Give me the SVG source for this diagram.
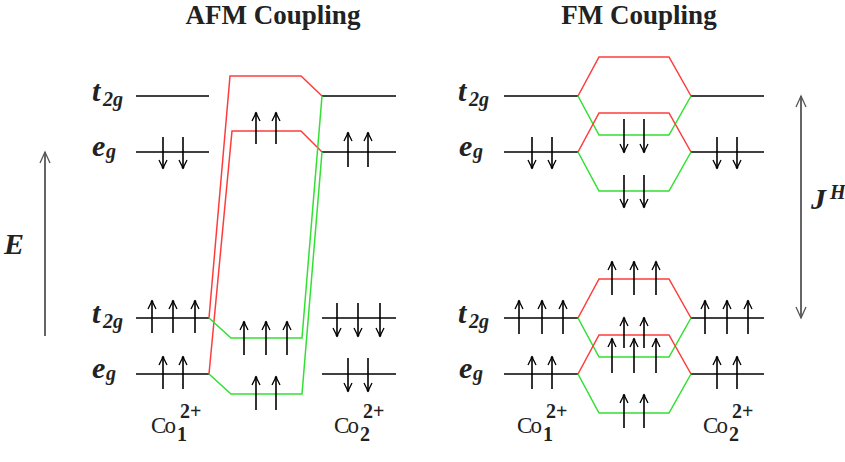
<svg xmlns="http://www.w3.org/2000/svg" width="845" height="462" viewBox="0 0 845 462">
<defs>
<marker id="e" viewBox="-10 -6 12 12" refX="0" refY="0" markerWidth="12" markerHeight="12" markerUnits="userSpaceOnUse" orient="auto">
<path d="M-8,-4 L0,0 L-8,4" fill="none" stroke="#000" stroke-width="1.3"/>
<circle cx="-0.5" cy="0" r="1.3" fill="#000"/>
</marker>
<marker id="ax" viewBox="-12 -7 14 14" refX="0" refY="0" markerWidth="14" markerHeight="14" markerUnits="userSpaceOnUse" orient="auto-start-reverse">
<path d="M-11,-5 L0,0 L-11,5" fill="none" stroke="#555" stroke-width="1.3"/>
</marker>
</defs>
<style>
.t{font-family:"Liberation Serif","Times New Roman",serif;fill:#222}
.ti{font-size:27px;font-weight:bold}
.lb{font-weight:bold;font-style:italic;font-size:30px}
.sb{font-weight:bold;font-style:italic;font-size:20px}
.co{font-size:23px}
.cs{font-size:20px;font-weight:bold}
.lv{stroke:#000;stroke-width:1.5;fill:none}
.r{stroke:#ff3c3c;stroke-width:1.5;fill:none}
.g{stroke:#33e033;stroke-width:1.5;fill:none}
.el line{stroke:#000;stroke-width:1.6;marker-end:url(#e)}
.axis{stroke:#555;stroke-width:1.8}
</style>
<rect width="845" height="462" fill="#fff"/>

<g id="titles">
<text class="t ti" x="273" y="24" text-anchor="middle">AFM Coupling</text>
<text class="t ti" x="639" y="24" text-anchor="middle">FM Coupling</text>
</g>

<g id="energy-axis">
<line class="axis" x1="45" y1="336" x2="45" y2="152" marker-end="url(#ax)"/>
<text class="t lb" x="4" y="254" font-size="34">E</text>
</g>

<g id="hund-axis">
<line class="axis" x1="801" y1="318" x2="801" y2="96" marker-start="url(#ax)" marker-end="url(#ax)"/>
<text class="t lb" x="811" y="209">J</text>
<text class="t" x="830" y="199" font-style="italic" font-weight="bold" font-size="20">H</text>
</g>

<g id="afm-labels">
<text class="t lb" x="92" y="101">t</text><text class="t sb" x="103" y="106">2g</text>
<text class="t lb" x="92" y="156">e</text><text class="t sb" x="106" y="158">g</text>
<text class="t lb" x="92" y="323">t</text><text class="t sb" x="103" y="328">2g</text>
<text class="t lb" x="92" y="378">e</text><text class="t sb" x="106" y="380">g</text>
</g>
<g id="fm-labels">
<text class="t lb" x="458" y="101">t</text><text class="t sb" x="469" y="106">2g</text>
<text class="t lb" x="459" y="156">e</text><text class="t sb" x="473" y="158">g</text>
<text class="t lb" x="458" y="323">t</text><text class="t sb" x="469" y="328">2g</text>
<text class="t lb" x="459" y="378">e</text><text class="t sb" x="473" y="380">g</text>
</g>

<g id="ion-labels">
<text class="t co" x="151" y="433" textLength="25">Co</text><text class="t cs" x="180" y="418">2+</text><text class="t cs" x="177" y="441">1</text>
<text class="t co" x="334" y="433" textLength="25">Co</text><text class="t cs" x="363" y="418">2+</text><text class="t cs" x="360" y="441">2</text>
<text class="t co" x="517" y="433" textLength="25">Co</text><text class="t cs" x="546" y="418">2+</text><text class="t cs" x="543" y="441">1</text>
<text class="t co" x="703" y="433" textLength="25">Co</text><text class="t cs" x="732" y="418">2+</text><text class="t cs" x="729" y="441">2</text>
</g>

<g id="afm-co1-levels">
<line class="lv" x1="136" y1="96" x2="209" y2="96"/>
<line class="lv" x1="136" y1="152" x2="209" y2="152"/>
<line class="lv" x1="136" y1="318" x2="209" y2="318"/>
<line class="lv" x1="136" y1="374" x2="209" y2="374"/>
</g>
<g id="afm-co2-levels">
<line class="lv" x1="322" y1="96" x2="396" y2="96"/>
<line class="lv" x1="322" y1="152" x2="396" y2="152"/>
<line class="lv" x1="322" y1="318" x2="396" y2="318"/>
<line class="lv" x1="322" y1="374" x2="396" y2="374"/>
</g>
<g id="fm-co1-levels">
<line class="lv" x1="504" y1="96" x2="578" y2="96"/>
<line class="lv" x1="504" y1="152" x2="578" y2="152"/>
<line class="lv" x1="504" y1="318" x2="578" y2="318"/>
<line class="lv" x1="504" y1="374" x2="578" y2="374"/>
</g>
<g id="fm-co2-levels">
<line class="lv" x1="691" y1="96" x2="764" y2="96"/>
<line class="lv" x1="691" y1="152" x2="764" y2="152"/>
<line class="lv" x1="691" y1="318" x2="764" y2="318"/>
<line class="lv" x1="691" y1="374" x2="764" y2="374"/>
</g>

<g id="connectors">
<polyline class="r" points="209,318 230,76 301,76 322,96"/>
<polyline class="r" points="209,374 232,131 301,131 322,152"/>
<polyline class="g" points="209,318 231,338 302,338 322,96"/>
<polyline class="g" points="209,374 231,394 302,394 322,152"/>
<polyline class="r" points="578,96 599,57 669,57 691,96"/>
<polyline class="g" points="578,96 599,135 669,135 691,96"/>
<polyline class="r" points="578,152 599,113 669,113 691,152"/>
<polyline class="g" points="578,152 599,191 669,191 691,152"/>
<polyline class="r" points="578,318 599,279 669,279 691,318"/>
<polyline class="g" points="578,318 599,357 669,357 691,318"/>
<polyline class="r" points="578,374 599,335 669,335 691,374"/>
<polyline class="g" points="578,374 599,413 669,413 691,374"/>
</g>

<g id="afm-electrons" class="el">
<line x1="163" y1="137" x2="163" y2="168"/><line x1="183" y1="137" x2="183" y2="168"/>
<line x1="256" y1="144" x2="256" y2="113"/><line x1="276" y1="144" x2="276" y2="113"/>
<line x1="348" y1="167" x2="348" y2="133"/><line x1="368" y1="167" x2="368" y2="133"/>
<line x1="152" y1="333" x2="152" y2="301"/><line x1="173" y1="333" x2="173" y2="301"/><line x1="195" y1="333" x2="195" y2="301"/>
<line x1="244" y1="355" x2="244" y2="322"/><line x1="266" y1="355" x2="266" y2="322"/><line x1="287" y1="355" x2="287" y2="322"/>
<line x1="337" y1="303" x2="337" y2="336"/><line x1="358" y1="303" x2="358" y2="336"/><line x1="380" y1="303" x2="380" y2="336"/>
<line x1="163" y1="389" x2="163" y2="357"/><line x1="183" y1="389" x2="183" y2="357"/>
<line x1="256" y1="410" x2="256" y2="377"/><line x1="276" y1="410" x2="276" y2="377"/>
<line x1="348" y1="358" x2="348" y2="391"/><line x1="368" y1="358" x2="368" y2="391"/>
</g>

<g id="fm-electrons" class="el">
<line x1="532" y1="137" x2="532" y2="168"/><line x1="552" y1="137" x2="552" y2="168"/>
<line x1="624" y1="119" x2="624" y2="152"/><line x1="644" y1="119" x2="644" y2="152"/>
<line x1="624" y1="175" x2="624" y2="207"/><line x1="644" y1="175" x2="644" y2="207"/>
<line x1="717" y1="137" x2="717" y2="168"/><line x1="737" y1="137" x2="737" y2="168"/>
<line x1="612" y1="295" x2="612" y2="262"/><line x1="634" y1="295" x2="634" y2="262"/><line x1="656" y1="295" x2="656" y2="262"/>
<line x1="519" y1="334" x2="519" y2="301"/><line x1="542" y1="334" x2="542" y2="301"/><line x1="563" y1="334" x2="563" y2="301"/>
<line x1="705" y1="334" x2="705" y2="301"/><line x1="727" y1="334" x2="727" y2="301"/><line x1="748" y1="334" x2="748" y2="301"/>
<line x1="624" y1="348" x2="624" y2="318"/><line x1="644" y1="348" x2="644" y2="318"/>
<line x1="612" y1="373" x2="612" y2="339"/><line x1="634" y1="373" x2="634" y2="339"/><line x1="656" y1="373" x2="656" y2="339"/>
<line x1="532" y1="389" x2="532" y2="357"/><line x1="552" y1="389" x2="552" y2="357"/>
<line x1="717" y1="389" x2="717" y2="357"/><line x1="737" y1="389" x2="737" y2="357"/>
<line x1="624" y1="428" x2="624" y2="395"/><line x1="644" y1="428" x2="644" y2="395"/>
</g>
</svg>
